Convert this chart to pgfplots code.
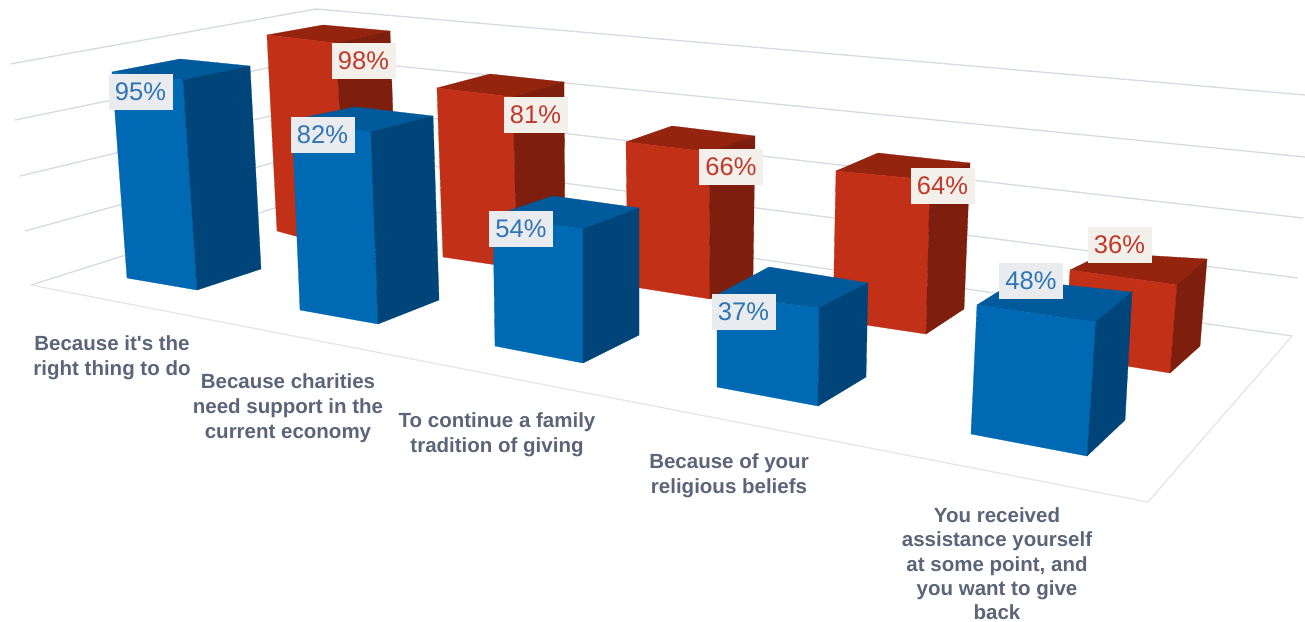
\documentclass[border=0pt]{standalone}
\usepackage{fontspec}
\setmainfont{Liberation Sans}[Ligatures=TeXOff]
\usepackage{pgfplots}
\usepackage{pgfplotstable}
\pgfplotsset{compat=1.18}
\definecolor{bf}{HTML}{0069B4}
\definecolor{bs}{HTML}{00457A}
\definecolor{bt}{HTML}{005A9C}
\definecolor{rf}{HTML}{C23018}
\definecolor{rs}{HTML}{7E1E0C}
\definecolor{rt}{HTML}{95240F}
\definecolor{wall}{HTML}{D6DAE1}
\definecolor{flr}{HTML}{E4E6EB}
\definecolor{cat}{HTML}{5B6478}
\definecolor{blab}{HTML}{2F75B5}
\definecolor{rlab}{HTML}{C0392B}
\definecolor{bbox}{HTML}{E9EBEF}
\definecolor{rbox}{HTML}{F3EFEA}
\pgfplotstableread{
x y value
140.5 92 95
322.5 135 82
521 229 54
743.5 311.5 37
1031 280.5 48
}\bluelabels
\pgfplotstableread{
x y value
363.5 60.5 98
535.5 115 81
731 167 66
942.5 185.5 64
1119.5 245 36
}\redlabels
\pgfplotsset{
  face/.style={fill=#1,draw=#1,line width=0.3pt,forget plot},
  barlabel/.style n args={2}{only marks,mark=none,forget plot,point meta=explicit,
    nodes near coords={\pgfmathprintnumber[assume math mode=true]{\pgfplotspointmeta}\%},
    nodes near coords align={anchor=center},
    every node near coord/.style={anchor=center,fill=#2,text=#1,inner sep=0pt,
      minimum width=64pt,minimum height=36pt,font=\fontsize{25.5}{30}\selectfont}},
}
\begin{document}
\begin{tikzpicture}
\path[use as bounding box] (0,0) rectangle (1305pt,621pt);
\begin{axis}[
  at={(0,0)},anchor=south west,
  scale only axis,width=1305pt,height=621pt,
  xmin=0,xmax=1305,ymin=0,ymax=621,y dir=reverse,
  hide axis,clip=true]
% page background keeps the full frame
\addplot[fill=white,draw=none,forget plot] coordinates {(0,0)(1305,0)(1305,621)(0,621)} --cycle;
% walls
\addplot[wall,line width=1.3pt,forget plot] coordinates {(10,64)(316,9)(1305,95)};
\addplot[wall,line width=1.3pt,forget plot] coordinates {(15,120)(316,58)(1305,157)};
\addplot[wall,line width=1.3pt,forget plot] coordinates {(20,176)(316,105)(1303,218)};
\addplot[wall,line width=1.3pt,forget plot] coordinates {(25,231)(316,151)(1298,278)};
\addplot[wall,line width=1.3pt,forget plot] coordinates {(31,285)(316,195)(1292,336)};
\addplot[flr,line width=1.3pt,forget plot] coordinates {(31,285)(1148,502)(1292,336)};
% red bars
\addplot[face=rt] coordinates {(267,35)(323,25)(390,31)(336,43)} --cycle;
\addplot[face=rf] coordinates {(267,35)(336,43)(347,250)(277,231)} --cycle;
\addplot[face=rs] coordinates {(336,43)(390,31)(397,232)(347,250)} --cycle;
\addplot[face=rt] coordinates {(437,88)(490,74)(564,82)(513,97)} --cycle;
\addplot[face=rf] coordinates {(437,88)(513,97)(517,268)(443,257)} --cycle;
\addplot[face=rs] coordinates {(513,97)(564,82)(565,247)(517,268)} --cycle;
\addplot[face=rt] coordinates {(626,142)(672,126)(755,136)(709,152)} --cycle;
\addplot[face=rf] coordinates {(626,142)(709,152)(710,299)(628,286)} --cycle;
\addplot[face=rs] coordinates {(709,152)(755,136)(753,277)(710,299)} --cycle;
\addplot[face=rt] coordinates {(836,171)(878,153)(970,163)(930,180)} --cycle;
\addplot[face=rf] coordinates {(836,171)(930,180)(926,334)(833,320)} --cycle;
\addplot[face=rs] coordinates {(930,180)(970,163)(964,309)(926,334)} --cycle;
\addplot[face=rt] coordinates {(1070,270)(1105,253)(1207,259)(1177,285)} --cycle;
\addplot[face=rf] coordinates {(1070,270)(1177,285)(1170,373)(1065,356)} --cycle;
\addplot[face=rs] coordinates {(1177,285)(1207,259)(1200,346)(1170,373)} --cycle;
% blue bars
\addplot[face=bt] coordinates {(112,72)(180,59)(250,66)(183,80)} --cycle;
\addplot[face=bf] coordinates {(112,72)(183,80)(197,290)(127,278)} --cycle;
\addplot[face=bs] coordinates {(183,80)(250,66)(261,269)(197,290)} --cycle;
\addplot[face=bt] coordinates {(292,120)(355,107)(433,116)(371,132)} --cycle;
\addplot[face=bf] coordinates {(292,120)(371,132)(378,324)(300,310)} --cycle;
\addplot[face=bs] coordinates {(371,132)(433,116)(439,300)(378,324)} --cycle;
\addplot[face=bt] coordinates {(493,216)(553,196)(639,208)(583,229)} --cycle;
\addplot[face=bf] coordinates {(493,216)(583,229)(583,363)(495,346)} --cycle;
\addplot[face=bs] coordinates {(583,229)(639,208)(639,335)(583,363)} --cycle;
\addplot[face=bt] coordinates {(717,295)(769,267)(868,283)(819,308)} --cycle;
\addplot[face=bf] coordinates {(717,295)(819,308)(818,406)(717,387)} --cycle;
\addplot[face=bs] coordinates {(819,308)(868,283)(866,377)(818,406)} --cycle;
\addplot[face=bt] coordinates {(977,305)(1017,280)(1132,292)(1096,322)} --cycle;
\addplot[face=bf] coordinates {(977,305)(1096,322)(1087,456)(971,434)} --cycle;
\addplot[face=bs] coordinates {(1096,322)(1132,292)(1125,420)(1087,456)} --cycle;
% value labels
\addplot[barlabel={blab}{bbox}] table[x=x,y=y,meta=value] {\bluelabels};
\addplot[barlabel={rlab}{rbox}] table[x=x,y=y,meta=value] {\redlabels};
% category labels
\tikzset{catl/.style={anchor=north,align=center,text=cat,inner sep=0pt,
  font=\fontsize{20.5}{25}\selectfont\bfseries}}
\node[catl] at (axis cs:112,335) {Because it's the\\right thing to do};
\node[catl] at (axis cs:288,373) {Because charities\\need support in the\\current economy};
\node[catl] at (axis cs:497,412) {To continue a family\\tradition of giving};
\node[catl] at (axis cs:729,453) {Because of your\\religious beliefs};
\node[catl,font=\fontsize{20.5}{24.3}\selectfont\bfseries] at (axis cs:997,507.5) {You received\\assistance yourself\\at some point, and\\you want to give\\back};
\end{axis}
\end{tikzpicture}
\end{document}
